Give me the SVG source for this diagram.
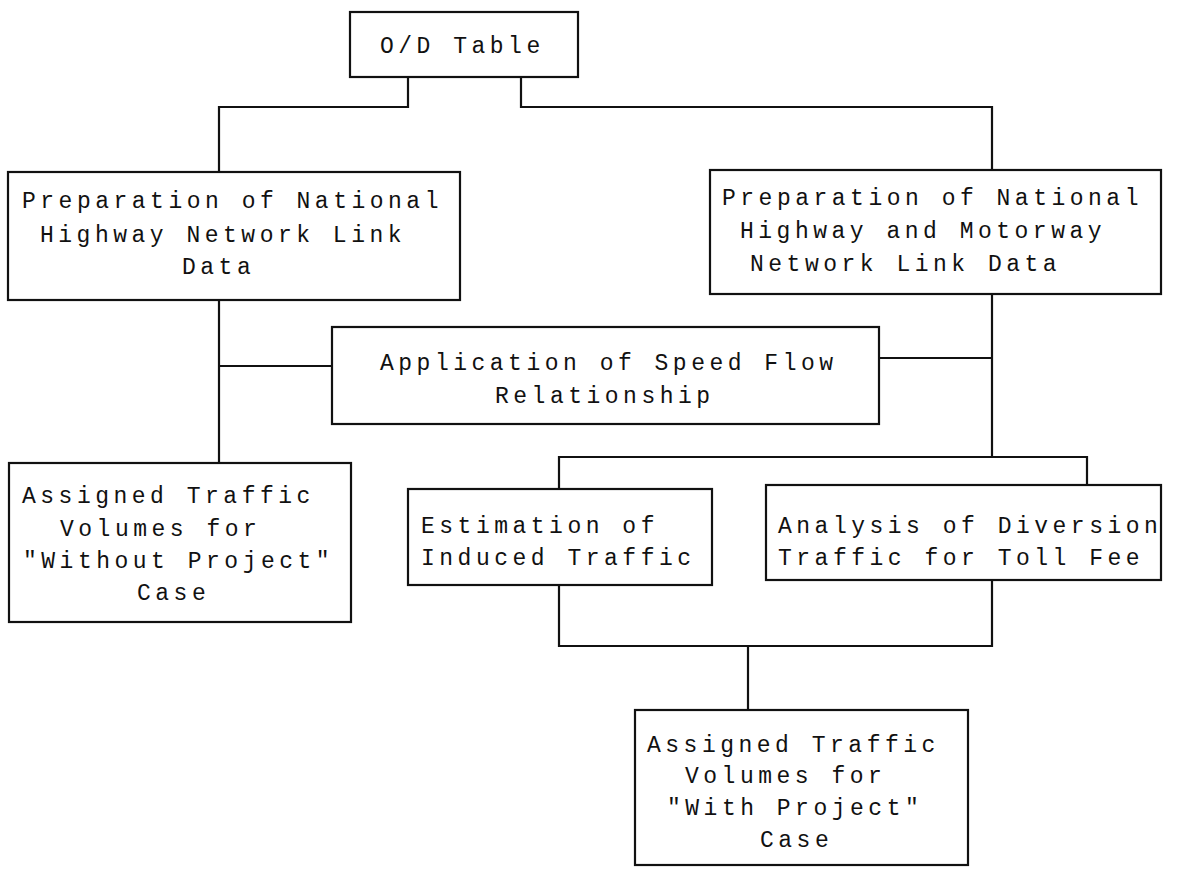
<svg xmlns="http://www.w3.org/2000/svg" width="1183" height="869" viewBox="0 0 1183 869">
  <style>
    .box { fill: #ffffff; stroke: #111111; stroke-width: 2.2; }
    .wire { fill: none; stroke: #111111; stroke-width: 2.2; }
    text { font-family: "Liberation Mono", "DejaVu Sans Mono", monospace; font-size: 23px; letter-spacing: 4.5px; fill: #111111; }
  </style>
  <rect x="0" y="0" width="1183" height="869" fill="#ffffff"/>

  <!-- connectors -->
  <g id="connectors">
    <path class="wire" d="M408,77 V107 H219 V172"/>
    <path class="wire" d="M521,77 V107 H992 V170"/>
    <path class="wire" d="M219,300 V463"/>
    <path class="wire" d="M219,366 H332"/>
    <path class="wire" d="M879,358 H992"/>
    <path class="wire" d="M992,294 V457"/>
    <path class="wire" d="M559,489 V457 H1087 V485"/>
    <path class="wire" d="M559,585 V646 H992 V580"/>
    <path class="wire" d="M748,646 V710"/>
  </g>

  <g id="od-table">
    <rect class="box" x="350" y="12" width="228" height="65"/>
    <text x="380" y="53">O/D Table</text>
  </g>

  <g id="national-network">
    <rect class="box" x="8" y="172" width="452" height="128"/>
    <text x="22" y="208">Preparation of National</text>
    <text x="40" y="242">Highway Network Link</text>
    <text x="182" y="274">Data</text>
  </g>

  <g id="national-motorway-network">
    <rect class="box" x="710" y="170" width="451" height="124"/>
    <text x="722" y="205">Preparation of National</text>
    <text x="740" y="238">Highway and Motorway</text>
    <text x="750" y="271">Network Link Data</text>
  </g>

  <g id="speed-flow">
    <rect class="box" x="332" y="327" width="547" height="97"/>
    <text x="380" y="370">Application of Speed Flow</text>
    <text x="495" y="403">Relationship</text>
  </g>

  <g id="without-project">
    <rect class="box" x="9" y="463" width="342" height="159"/>
    <text x="22" y="503">Assigned Traffic</text>
    <text x="60" y="536">Volumes for</text>
    <text x="23" y="568">"Without Project"</text>
    <text x="137" y="600">Case</text>
  </g>

  <g id="induced-traffic">
    <rect class="box" x="408" y="489" width="304" height="96"/>
    <text x="421" y="533">Estimation of</text>
    <text x="421" y="565">Induced Traffic</text>
  </g>

  <g id="diversion-traffic">
    <rect class="box" x="766" y="485" width="395" height="95"/>
    <text x="778" y="533">Analysis of Diversion</text>
    <text x="778" y="565">Traffic for Toll Fee</text>
  </g>

  <g id="with-project">
    <rect class="box" x="635" y="710" width="333" height="155"/>
    <text x="647" y="752">Assigned Traffic</text>
    <text x="685" y="783">Volumes for</text>
    <text x="667" y="815">"With Project"</text>
    <text x="760" y="847">Case</text>
  </g>
</svg>
